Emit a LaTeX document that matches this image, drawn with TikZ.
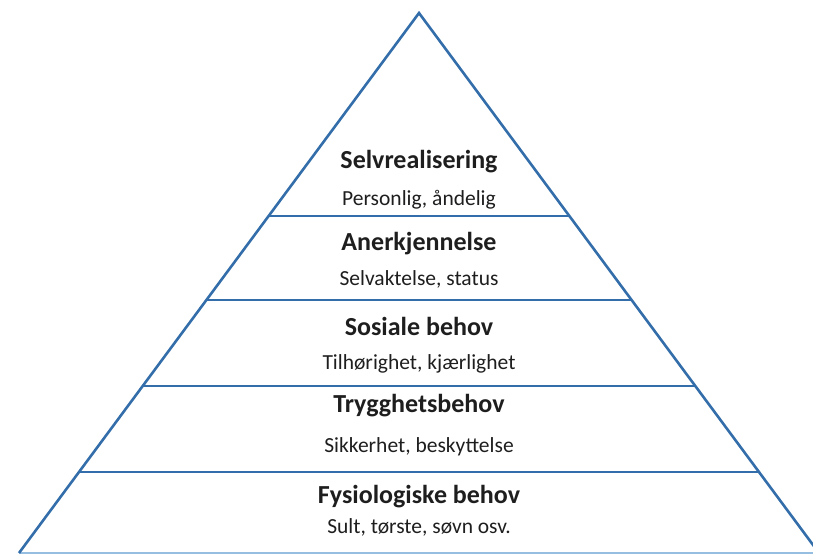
\documentclass[tikz,border=0pt]{standalone}
\usepackage{fontspec}
\setmainfont{Carlito}
\definecolor{pyrblue}{RGB}{52,110,170}
\definecolor{pyrlight}{RGB}{150,190,225}
\definecolor{pyrtext}{RGB}{30,30,30}
\tikzset{
  level/.style={anchor=base,text=pyrtext,font=\bfseries\fontsize{26}{30}\selectfont},
  sublevel/.style={anchor=base,text=pyrtext,font=\fontsize{21.5}{25}\selectfont},
  edge/.style={draw=pyrblue,line width=2.6pt}
}
\begin{document}
\begin{tikzpicture}[x=1pt,y=-1pt]
\useasboundingbox (0,0) rectangle (813,554);
\clip (0,0) rectangle (813,554);

% pyramid
\draw[edge,draw=pyrlight] (19,553) -- (819,553);
\draw[edge,line join=miter] (19,553) -- (419,13) -- (819,553);
\draw[edge] (268.6,216) -- (569.4,216);
\draw[edge] (206.3,300) -- (631.7,300);
\draw[edge] (142.6,386) -- (695.4,386);
\draw[edge] (78.9,472) -- (759.1,472);

% levels
\node[level] (self) at (419,168) {Selvrealisering};
\node[sublevel] (selfsub) at (419,205) {Personlig, åndelig};
\node[level] (esteem) at (419,250) {Anerkjennelse};
\node[sublevel] (esteemsub) at (419,285) {Selvaktelse, status};
\node[level] (social) at (419,335) {Sosiale behov};
\node[sublevel] (socialsub) at (419,369) {Tilhørighet, kjærlighet};
\node[level] (safety) at (419,412) {Trygghetsbehov};
\node[sublevel] (safetysub) at (419,452) {Sikkerhet, beskyttelse};
\node[level] (phys) at (419,503) {Fysiologiske behov};
\node[sublevel] (physsub) at (419,533) {Sult, tørste, søvn osv.};

\end{tikzpicture}
\end{document}
